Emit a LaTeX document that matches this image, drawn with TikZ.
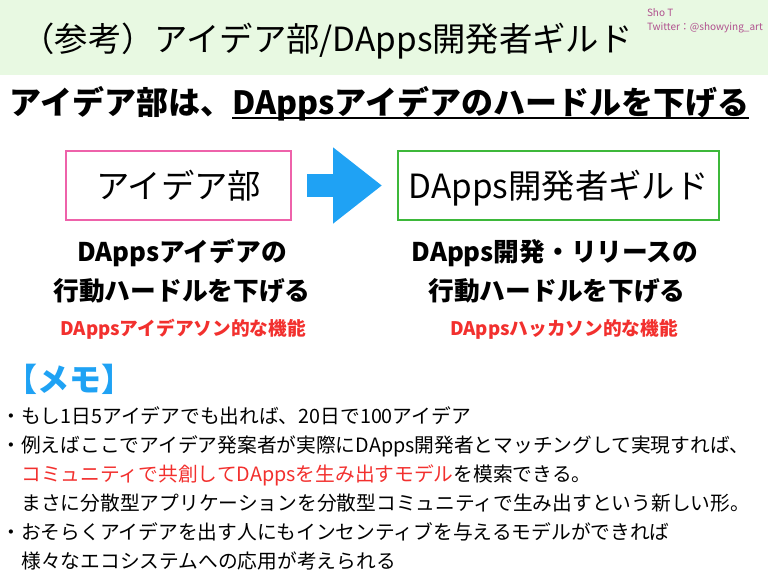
\documentclass[tikz,border=0pt]{standalone}
\usepackage{fontspec}
\setmainfont{Noto Sans CJK JP}
\usepackage{xcolor}
\usepackage{tikz}
\usetikzlibrary{arrows.meta,positioning}

\definecolor{bandgreen}{HTML}{E8F9E2}
\definecolor{boxpink}{HTML}{EE62AA}
\definecolor{boxgreen}{HTML}{3DB83A}
\definecolor{memoblue}{HTML}{1FA2F4}
\definecolor{notered}{HTML}{F2302E}
\definecolor{signpink}{HTML}{B0508E}

\tikzset{
  % text box fixed so the glyphs sit on the node centre
  cjk/.style 2 args={inner sep=0pt,outer sep=0pt,text height=#1pt,text depth=#2pt},
  titletext/.style={cjk={22}{2.5},font=\fontsize{25}{25}\selectfont},
  signtext/.style={cjk={6.6}{0.75},anchor=west,text=signpink,font=\fontsize{7.5}{7.5}\selectfont},
  leadtext/.style={cjk={21.1}{2.4},font=\bfseries\fontsize{24}{24}\selectfont},
  unitbox/.style={cjk={22}{2.5},draw,line width=2.2pt,minimum height=51.75pt,font=\fontsize{25}{25}\selectfont},
  midtext/.style={cjk={17}{1.9},font=\bfseries\fontsize{19.3}{19.3}\selectfont},
  redtext/.style={cjk={12.3}{1.4},text=notered,font=\bfseries\fontsize{14}{14}\selectfont},
  memotext/.style={cjk={21.1}{2.4},text=memoblue,font=\bfseries\fontsize{24}{24}\selectfont},
  bodytext/.style={cjk={13}{1.5},anchor=west,font=\fontsize{14.8}{14.8}\selectfont},
  bigarrow/.style={memoblue,line width=17.25pt,-{Triangle[length=36.75pt,width=54.75pt]}}
}

\begin{document}
\begin{tikzpicture}[x=0.75pt,y=-0.75pt]
  \useasboundingbox (0,0) rectangle (768,576);
  % header band
  \fill[bandgreen] (0,0) rectangle (768,75);
  \node[titletext] (title) at (327,38) {（参考）アイデア部/DApps開発者ギルド};
  \node[signtext] (author) at (647,13) {Sho T};
  \node[signtext] (twitter) at (647,27) {Twitter：@showying\_art};
  % lead sentence, second half underlined
  \node[leadtext,anchor=west] (leadA) at (10,102) {アイデア部は、};
  \node[leadtext,anchor=base west] (leadB) at (leadA.base east) {DAppsアイデアのハードルを下げる};
  \draw[line width=1.5pt] ([yshift=-2.6pt]leadB.base west) -- ([yshift=-2.6pt]leadB.base east);
  % the two units
  \node[unitbox,draw=boxpink,minimum width=168.75pt] (idea) at (178.5,185.5) {アイデア部};
  \node[unitbox,draw=boxgreen,minimum width=240.75pt] (guild) at (558.5,185.5) {DApps開発者ギルド};
  \draw[bigarrow] ([xshift=12pt]idea.east) -- ([xshift=-12pt]guild.west);
  % what each unit lowers
  \node[midtext] (ideaNoteA) at (182,251.5) {DAppsアイデアの};
  \node[midtext] (ideaNoteB) at (182,290.5) {行動ハードルを下げる};
  \node[midtext] (guildNoteA) at (555,251.5) {DApps開発・リリースの};
  \node[midtext] (guildNoteB) at (557,290.5) {行動ハードルを下げる};
  \node[redtext] (ideaRole) at (183,328) {DAppsアイデアソン的な機能};
  \node[redtext] (guildRole) at (564,328) {DAppsハッカソン的な機能};
  % memo
  \node[memotext] (memo) at (70,379) {【メモ】};
  \node[bodytext] (m1) at (1.5,416) {・もし1日5アイデアでも出れば、20日で100アイデア};
  \node[bodytext] (m2) at (1.5,445) {・例えばここでアイデア発案者が実際にDApps開発者とマッチングして実現すれば、};
  \node[bodytext] (m3) at (21.5,474) {\textcolor{notered}{コミュニティで共創してDAppsを生み出すモデル}を模索できる。};
  \node[bodytext] (m4) at (21.5,503) {まさに分散型アプリケーションを分散型コミュニティで生み出すという新しい形。};
  \node[bodytext] (m5) at (1.5,532) {・おそらくアイデアを出す人にもインセンティブを与えるモデルができれば};
  \node[bodytext] (m6) at (21.5,561) {様々なエコシステムへの応用が考えられる};
\end{tikzpicture}
\end{document}
